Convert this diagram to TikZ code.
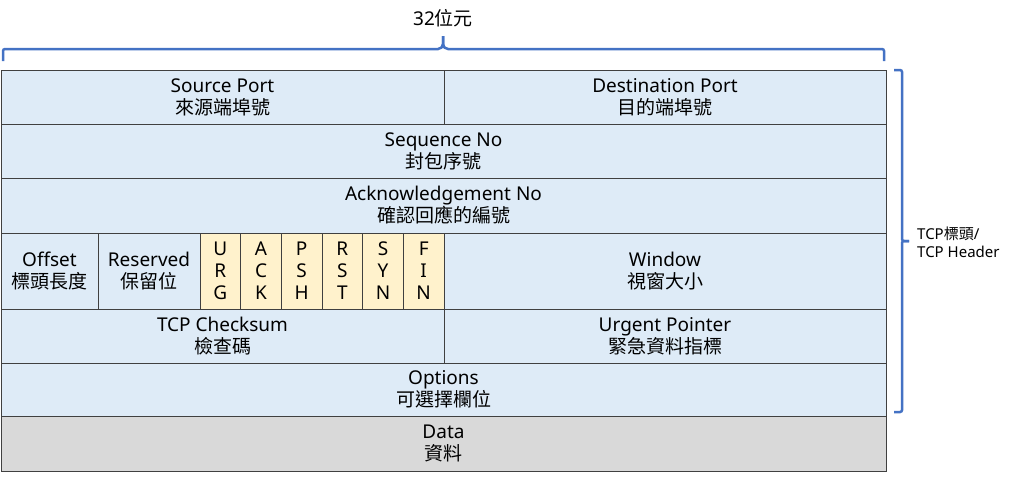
\documentclass[tikz,border=0pt]{standalone}
\usepackage{fontspec}
\usepackage{xcolor}
\setmainfont{Noto Sans}
\newfontfamily\cjk{Noto Sans CJK TC}
\definecolor{fieldblue}{HTML}{DEEBF7}
\definecolor{flagyellow}{HTML}{FFF2CC}
\definecolor{datagray}{HTML}{D9D9D9}
\definecolor{braceblue}{HTML}{4472C4}
\tikzset{
    field-box/.style = {draw=black!75, fill=fieldblue, line width=0.8pt, rectangle, inner sep=0pt, outer sep=0pt, anchor=north west, align=center, font=\fontsize{19}{22}\selectfont},
    flag-box/.style = {field-box, fill=flagyellow},
    data-box/.style = {field-box, fill=datagray},
    brace-line/.style = {draw=braceblue, line width=2.5pt, rounded corners=2pt},
    brace-label/.style = {align=left, inner sep=0pt},
}

\begin{document}
\begin{tikzpicture}[x=1pt, y=-1pt]
\useasboundingbox (0,0) rectangle (1024,479);
% header rows
\node [field-box, minimum width=443pt, minimum height=54pt] (src) at (1,70) {Source Port\\{\cjk 來源端埠號}};
\node [field-box, minimum width=442pt, minimum height=54pt] (dst) at (444,70) {Destination Port\\{\cjk 目的端埠號}};
\node [field-box, minimum width=885pt, minimum height=54pt] (seq) at (1,124) {Sequence No\\{\cjk 封包序號}};
\node [field-box, minimum width=885pt, minimum height=55pt] (ack) at (1,178) {Acknowledgement No\\{\cjk 確認回應的編號}};
\node [field-box, minimum width=97pt, minimum height=76pt] (offset) at (1,233) {Offset\\{\cjk 標頭長度}};
\node [field-box, minimum width=102pt, minimum height=76pt] (reserved) at (98,233) {Reserved\\{\cjk 保留位}};
\foreach \i/\name/\txt in {0/urg/U\\R\\G, 1/ack-flag/A\\C\\K, 2/psh/P\\S\\H, 3/rst/R\\S\\T, 4/syn/S\\Y\\N, 5/fin/F\\I\\N}
    \node [flag-box, minimum width=40.67pt, minimum height=76pt] (\name) at (200+40.67*\i,233) {\txt};
\node [field-box, minimum width=442pt, minimum height=76pt] (window) at (444,233) {Window\\{\cjk 視窗大小}};
\node [field-box, minimum width=443pt, minimum height=54pt] (checksum) at (1,309) {TCP Checksum\\{\cjk 檢查碼}};
\node [field-box, minimum width=442pt, minimum height=54pt] (urgent) at (444,309) {Urgent Pointer\\{\cjk 緊急資料指標}};
\node [field-box, minimum width=885pt, minimum height=53pt] (options) at (1,363) {Options\\{\cjk 可選擇欄位}};
\node [data-box, minimum width=885pt, minimum height=55pt] (data) at (1,416) {Data\\{\cjk 資料}};

% braces
\draw [brace-line] (3,61) -- (3,49) -- (440,49) -- (443,46) -- (443,36);
\draw [brace-line] (443,36) -- (443,46) -- (446,49) -- (884,49) -- (884,61);
\node [font=\fontsize{19}{22}\selectfont, inner sep=0pt] (bits) at (443,18) {32{\cjk 位元}};
\draw [brace-line] (894,70) -- (902,70) -- (902,241) -- (909,241);
\draw [brace-line] (909,241) -- (902,241) -- (902,412) -- (894,412);
\node [brace-label, font=\fontsize{15}{18}\selectfont, anchor=west] (header) at (917,242) {TCP{\cjk 標頭}/\\TCP Header};
\end{tikzpicture}
\end{document}
